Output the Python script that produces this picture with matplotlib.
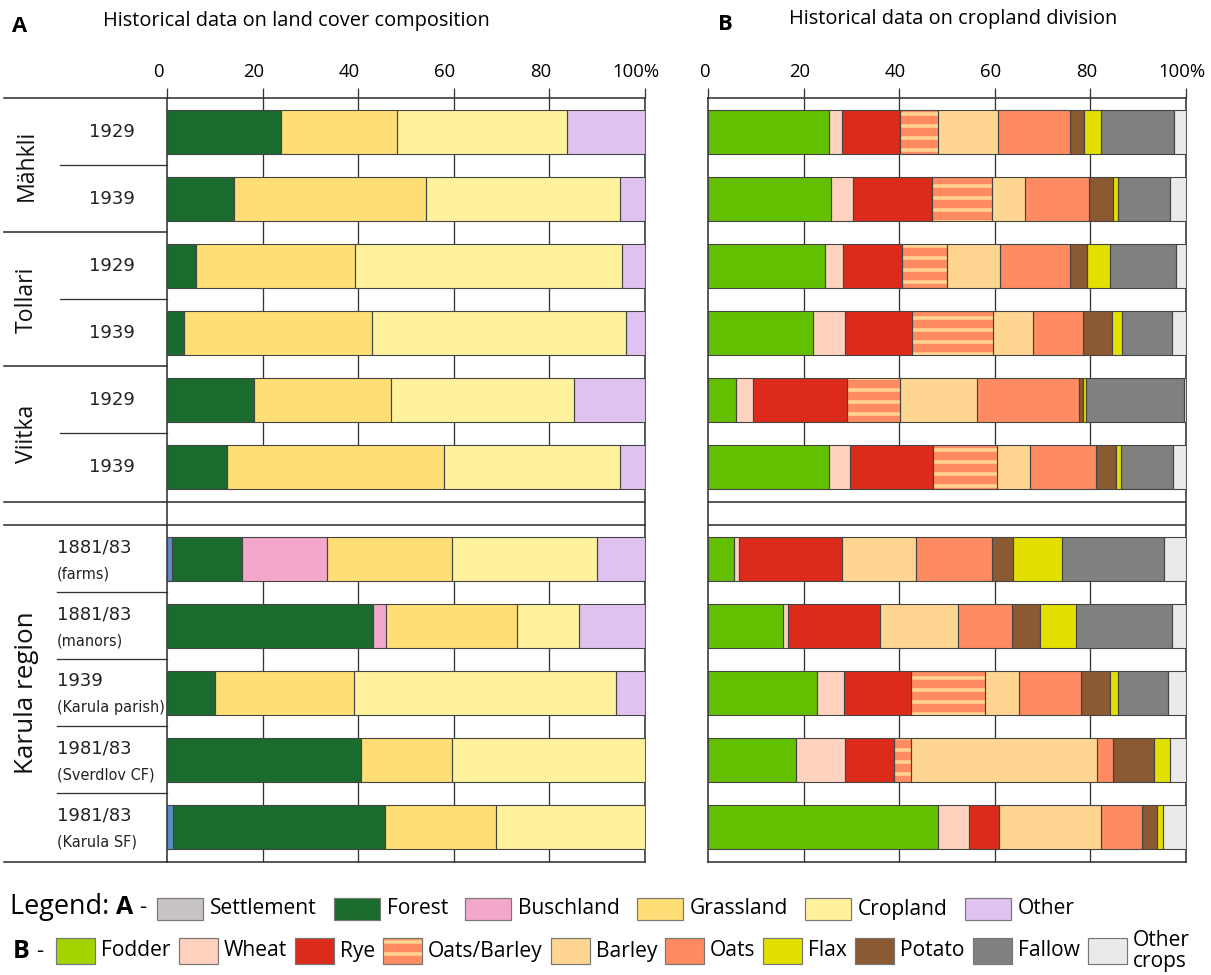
import numpy as np
import matplotlib
matplotlib.use("Agg")
import matplotlib.pyplot as plt
from matplotlib.patches import Rectangle
from matplotlib.transforms import ScaledTranslation, blended_transform_factory

W, H, DPI = 1211, 975, 72

# rows, top to bottom
groups = ["Mähkli", "Tollari", "Viitka", "Karula region"]
row_years = ["1929", "1939", "1929", "1939", "1929", "1939",
             "1881/83", "1881/83", "1939", "1981/83", "1981/83"]
row_notes = ["", "", "", "", "", "",
             "(farms)", "(manors)", "(Karula parish)", "(Sverdlov CF)", "(Karula SF)"]

# A: land cover composition (%)
settlement = [0, 0, 0, 0, 0, 0, 1.0, 0, 0, 0, 1.2]
forest = [23.8, 14.1, 6.1, 3.5, 18.3, 12.6, 14.7, 43.0, 10.0, 40.5, 44.5]
buschland = [0, 0, 0, 0, 0, 0, 17.7, 2.9, 0, 0, 0]
grassland = [24.4, 40.0, 33.3, 39.4, 28.5, 45.4, 26.3, 27.3, 29.2, 19.2, 23.2]
cropland = [35.4, 40.7, 55.7, 53.1, 38.4, 36.8, 30.3, 13.0, 54.7, 40.3, 31.1]
other = [16.4, 5.2, 4.9, 4.0, 14.8, 5.2, 10.0, 13.8, 6.1, 0, 0]

# B: cropland division (%)
fodder = [25.3, 25.7, 24.5, 22.0, 5.9, 25.4, 5.4, 15.7, 22.9, 18.5, 48.2]
wheat = [2.8, 4.7, 3.7, 6.6, 3.5, 4.3, 1.1, 1.0, 5.5, 10.1, 6.3]
rye = [12.0, 16.4, 12.4, 14.1, 19.7, 17.3, 21.5, 19.3, 14.1, 10.4, 6.3]
oats_barley = [8.1, 12.7, 9.5, 17.0, 11.0, 13.5, 0, 0, 15.5, 3.4, 0]
barley = [12.4, 6.8, 11.0, 8.3, 16.1, 6.8, 15.5, 16.3, 7.1, 38.9, 21.4]
oats = [15.1, 13.4, 14.7, 10.5, 21.4, 13.8, 15.9, 11.3, 12.9, 3.4, 8.6]
potato = [2.9, 5.0, 3.4, 6.0, 0.8, 4.2, 4.4, 5.9, 6.0, 8.7, 3.1]
flax = [3.6, 1.0, 4.8, 2.2, 0.7, 1.0, 10.2, 7.4, 1.8, 3.3, 1.2]
fallow = [15.2, 11.0, 13.9, 10.4, 20.4, 11.0, 21.5, 20.2, 10.5, 0, 0]
other_crops = [2.6, 3.3, 2.1, 2.9, 0.5, 2.7, 4.5, 2.9, 3.7, 3.3, 4.9]

LAND = [("Settlement", settlement, "#5b8dc9"), ("Forest", forest, "#1a6b2d"),
        ("Buschland", buschland, "#f2a7cb"), ("Grassland", grassland, "#ffde75"),
        ("Cropland", cropland, "#fff29d"), ("Other", other, "#e0c2f0")]
CROPS = [("Fodder", fodder, "#63c000"), ("Wheat", wheat, "#ffd2c0"),
         ("Rye", rye, "#dc2b1a"), ("Oats/Barley", oats_barley, "#ff8b62"),
         ("Barley", barley, "#ffd592"), ("Oats", oats, "#ff8b62"),
         ("Potato", potato, "#8b5a33"), ("Flax", flax, "#e3e000"),
         ("Fallow", fallow, "#808080"), ("Other crops", other_crops, "#eaeaea")]
LEGEND_A = ["Settlement", "Forest", "Buschland", "Grassland", "Cropland", "Other"]
LEGEND_B = ["Fodder", "Wheat", "Rye", "Oats/Barley", "Barley", "Oats", "Flax",
            "Potato", "Fallow", "Other crops"]
LEGEND_COLOR = {"Settlement": "#c8c4c4", "Fodder": "#a3d400"}
STRIPE = "#ffd590"

SANS = ["Open Sans", "DejaVu Sans"]
LINE = "#333333"
EDGE = "#444444"

plt.rcParams["hatch.linewidth"] = 3.5

# vertical layout: 6 rows, a spacer, then 5 rows (67 px per row)
ypos = np.r_[np.arange(6), np.arange(5) + 6.37]
BAR_H = 0.66
Y_TOP, Y_BOT = -0.507, 10.895
BREAK = (5.52, 5.87)


def fx(px):
    return px / W


def fy(py):
    return 1 - py / H


def stacked(ax, series):
    left = np.zeros(len(ypos))
    for name, vals, color in series:
        v = np.asarray(vals, float)
        m = v > 0
        if name == "Oats/Barley":
            ax.barh(ypos[m], v[m], left=left[m], height=BAR_H, color=color,
                    edgecolor=STRIPE, lw=0, hatch="-", zorder=3)
        else:
            ax.barh(ypos[m], v[m], left=left[m], height=BAR_H, color=color,
                    lw=0, zorder=3)
        ax.barh(ypos[m], v[m], left=left[m], height=BAR_H, fill=False,
                edgecolor=EDGE, lw=1.1, zorder=4)
        left += v


def frame(ax, shift):
    ax.set_xlim(0, 100)
    ax.set_ylim(Y_BOT, Y_TOP)
    ax.set_yticks([])
    ax.set_xticks([0, 20, 40, 60, 80, 100], ["0", "20", "40", "60", "80", "100%"])
    ax.tick_params(axis="x", top=True, bottom=False, labeltop=True, labelbottom=False,
                   length=10, width=1.3, color=LINE, direction="out", pad=7,
                   labelsize=18.5)
    for lab in ax.get_xticklabels():
        lab.set_family(SANS)
        lab.set_transform(lab.get_transform() +
                          ScaledTranslation(shift / DPI, 0, ax.figure.dpi_scale_trans))
    for s in ax.spines.values():
        s.set_color(LINE)
        s.set_linewidth(1.6)
    ax.vlines([20, 40, 60, 80], Y_BOT, Y_TOP, color=LINE, lw=1.3, zorder=1)
    # no grid through the spacer between the two blocks
    ax.axhspan(ypos[5] + BAR_H / 2, ypos[6] - BAR_H / 2, color="white", lw=0, zorder=2)


def main():
    fig = plt.figure(figsize=(W / DPI, H / DPI), dpi=DPI)
    ax_w, ax_h = (645 - 167) / W, (862 - 98) / H
    axA = fig.add_axes([fx(167), fy(862), ax_w, ax_h])
    axB = fig.add_axes([fx(708), fy(862), ax_w, ax_h])
    frame(axA, -9)
    frame(axB, -4)
    stacked(axA, LAND)
    stacked(axB, CROPS)

    # table rules on the label column
    tr = blended_transform_factory(axA.transAxes, axA.transData)
    col = lambda px: (px - 167) / 478
    for y in (Y_TOP, 1.5, 3.5, Y_BOT):
        axA.plot([col(4), 0], [y, y], color=LINE, lw=1.6, transform=tr, clip_on=False)
    for y in (0.5, 2.5, 4.5):
        axA.plot([col(60), 0], [y, y], color=LINE, lw=1.3, transform=tr, clip_on=False)
    for y in (ypos[6:-1] + 0.5):
        axA.plot([col(57), 0], [y, y], color=LINE, lw=1.3, transform=tr, clip_on=False)
    for y in BREAK:
        axA.plot([col(4), 1], [y, y], color=LINE, lw=1.6, transform=tr, clip_on=False)
        axB.axhline(y, color=LINE, lw=1.6, zorder=5)

    # row labels
    for i, (yr, note) in enumerate(zip(row_years, row_notes)):
        if note:
            axA.text(col(57), ypos[i] - 0.17, yr, transform=tr, ha="left", va="center",
                     fontsize=18, family="DejaVu Sans", color="#222")
            axA.text(col(57), ypos[i] + 0.22, note, transform=tr, ha="left", va="center",
                     fontsize=14.5, family="DejaVu Sans", color="#222")
        else:
            axA.text(col(112), ypos[i], yr, transform=tr, ha="center", va="center",
                     fontsize=18, family="DejaVu Sans", color="#222")
    group_y = [0.5, 2.5, 4.5, ypos[8]]
    group_size = [23, 23, 23, 26]
    for g, y, fs in zip(groups, group_y, group_size):
        axA.text(col(27), y, g, transform=tr, rotation=90, ha="center", va="center",
                 fontsize=fs, family=SANS, color="#111")

    # panel titles
    fig.text(fx(12), fy(27), "A", fontsize=22, weight="bold", family=SANS, va="center")
    fig.text(fx(296), fy(21), "Historical data on land cover composition", fontsize=20,
             family=SANS, ha="center", va="center")
    fig.text(fx(718), fy(25), "B", fontsize=22, weight="bold", family=SANS, va="center")
    fig.text(fx(953), fy(19), "Historical data on cropland division", fontsize=20,
             family=SANS, ha="center", va="center")

    # legend, laid out left to right in pixels
    renderer = fig.canvas.get_renderer()
    colors = {n: c for n, _, c in LAND + CROPS}
    colors.update(LEGEND_COLOR)

    def put(x, y, s, **kw):
        t = fig.text(fx(x), fy(y), s, va="center", ha="left", family=SANS, **kw)
        return t.get_window_extent(renderer).x1

    def row(names, x, y, pw, ph, tgap, igap, size):
        for n in names:
            fig.patches.append(Rectangle((fx(x), fy(y + ph / 2)), pw / W, ph / H,
                                         transform=fig.transFigure, facecolor=colors[n],
                                         edgecolor="#777", lw=1.2,
                                         hatch="-" if n == "Oats/Barley" else None))
            if n == "Oats/Barley":
                fig.patches[-1].set_edgecolor(STRIPE)
                fig.patches.append(Rectangle((fx(x), fy(y + ph / 2)), pw / W, ph / H,
                                             transform=fig.transFigure, fill=False,
                                             edgecolor="#777", lw=1.2))
            label = n.replace(" ", "\n") if n == "Other crops" else n
            x = put(x + pw + tgap, y, label, fontsize=size, linespacing=1.0) + igap

    x = put(10, 907, "Legend: ", fontsize=27)
    x = put(x, 907, "A", fontsize=25, weight="bold")
    put(x + 6, 907, "-", fontsize=22)
    row(LEGEND_A, 157, 909, 46, 22, 7, 17, 21)
    x = put(13, 951, "B", fontsize=25, weight="bold")
    put(x + 6, 951, "-", fontsize=22)
    row(LEGEND_B, 56, 951, 39, 26, 6, 8, 21)

    fig.savefig("out.png", dpi=DPI, facecolor="white")


if __name__ == "__main__":
    main()
